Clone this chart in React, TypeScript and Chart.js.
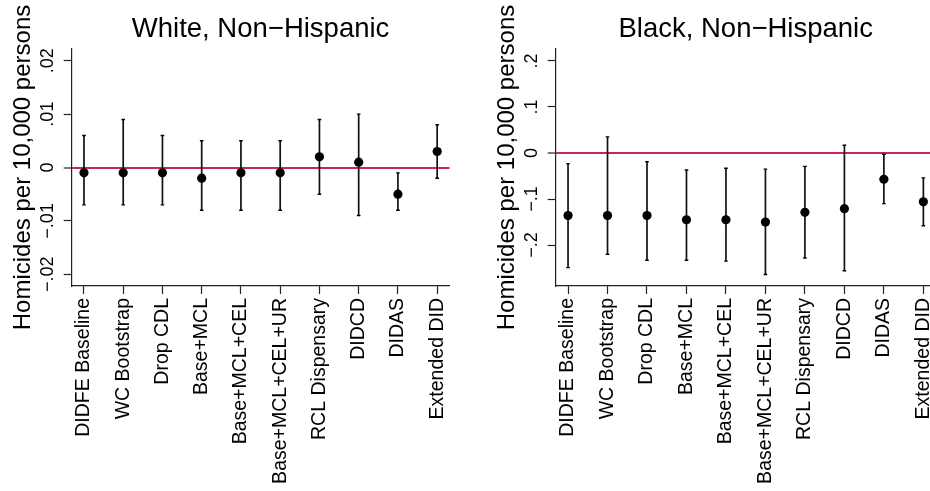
import { useEffect, useRef } from "react";
import { Chart, registerables } from "chart.js";

Chart.register(...registerables);

const FONT = "'Liberation Sans', Arial, Helvetica, sans-serif";

const categories = [
  "DIDFE Baseline",
  "WC Bootstrap",
  "Drop CDL",
  "Base+MCL",
  "Base+MCL+CEL",
  "Base+MCL+CEL+UR",
  "RCL Dispensary",
  "DIDCD",
  "DIDAS",
  "Extended DID",
];

const yAxisTitle = "Homicides per 10,000 persons";

const whiteTitle = "White, Non\u2212Hispanic";
const whiteEstimates = [-0.001, -0.001, -0.001, -0.002, -0.001, -0.001, 0.002, 0.001, -0.005, 0.003];
const whiteLower = [-0.007, -0.007, -0.007, -0.008, -0.008, -0.008, -0.005, -0.009, -0.008, -0.002];
const whiteUpper = [0.006, 0.009, 0.006, 0.005, 0.005, 0.005, 0.009, 0.01, -0.001, 0.008];
const whiteTickValues = [-0.02, -0.01, 0, 0.01, 0.02];
const whiteTickLabels = ["\u2212.02", "\u2212.01", "0", ".01", ".02"];

const blackTitle = "Black, Non\u2212Hispanic";
const blackEstimates = [-0.136, -0.136, -0.136, -0.145, -0.145, -0.15, -0.129, -0.121, -0.057, -0.106];
const blackLower = [-0.249, -0.22, -0.233, -0.233, -0.235, -0.264, -0.228, -0.256, -0.11, -0.158];
const blackUpper = [-0.023, 0.035, -0.019, -0.037, -0.033, -0.035, -0.029, 0.017, -0.003, -0.054];
const blackTickValues = [-0.2, -0.1, 0, 0.1, 0.2];
const blackTickLabels = ["\u2212.2", "\u2212.1", "0", ".1", ".2"];

const RED = "#C8284F";
const CANVAS_H = 491;
const PLOT_TOP = 49;
const PLOT_BOTTOM = 286;

type Panel = {
  title: string;
  estimates: number[];
  lower: number[];
  upper: number[];
  tickValues: number[];
  tickLabels: string[];
  yMin: number;
  yMax: number;
  axisWidth: number;
  padRight: number;
};

function buildConfig(p: Panel): any {
  const points = categories.map((_, i) => ({ x: i + 1, y: p.estimates[i] }));
  const caps: { x: number; y: number }[] = [];
  const bars: { x: number; y: number | null }[] = [];
  categories.forEach((_, i) => {
    caps.push({ x: i + 1, y: p.lower[i] }, { x: i + 1, y: p.upper[i] });
    bars.push({ x: i + 1, y: p.lower[i] }, { x: i + 1, y: p.upper[i] }, { x: i + 1, y: null });
  });

  const textPlugin = {
    id: "panelText",
    afterDraw(chart: any) {
      const ctx = chart.ctx as CanvasRenderingContext2D;
      const { left, right, top, bottom } = chart.chartArea;
      const ys = chart.scales.y;
      ctx.save();
      ctx.fillStyle = "#000";
      ctx.font = `27.5px ${FONT}`;
      ctx.textAlign = "center";
      ctx.textBaseline = "alphabetic";
      ctx.fillText(p.title, (left + right) / 2, 37);

      ctx.font = `18px ${FONT}`;
      p.tickValues.forEach((v, i) => {
        const y = ys.getPixelForValue(v);
        ctx.save();
        ctx.translate(left - 24, y);
        ctx.rotate(-Math.PI / 2);
        ctx.textAlign = "center";
        ctx.textBaseline = "middle";
        ctx.fillText(p.tickLabels[i], 0, 0);
        ctx.restore();
      });

      ctx.font = `24px ${FONT}`;
      ctx.save();
      ctx.translate(left - 48, (top + bottom) / 2);
      ctx.rotate(-Math.PI / 2);
      ctx.textAlign = "center";
      ctx.textBaseline = "middle";
      ctx.fillText(yAxisTitle, 0, 0);
      ctx.restore();
      ctx.restore();
    },
  };

  return {
    type: "scatter",
    data: {
      datasets: [
        {
          label: "Estimate",
          data: points,
          pointRadius: 4.6,
          pointHoverRadius: 4.6,
          backgroundColor: "#000",
          borderWidth: 0,
        },
        {
          label: "CI caps",
          data: caps,
          pointStyle: "line",
          pointRadius: 1.8,
          pointHoverRadius: 1.8,
          borderColor: "#000",
          borderWidth: 1.4,
        },
        {
          label: "CI",
          data: bars,
          showLine: true,
          spanGaps: false,
          pointRadius: 0,
          pointHoverRadius: 0,
          borderColor: "#111",
          borderWidth: 1.7,
        },
      ],
    },
    options: {
      animation: false,
      responsive: false,
      devicePixelRatio: 1,
      events: [],
      layout: { padding: { top: PLOT_TOP, right: p.padRight, bottom: 0, left: 0 } },
      plugins: { legend: { display: false }, tooltip: { enabled: false }, title: { display: false } },
      scales: {
        x: {
          type: "linear",
          min: 0.6875,
          max: 10.3125,
          afterBuildTicks: (s: any) => {
            s.ticks = categories.map((_, i) => ({ value: i + 1 }));
          },
          afterFit: (s: any) => {
            s.height = CANVAS_H - PLOT_BOTTOM;
          },
          ticks: {
            autoSkip: false,
            minRotation: 90,
            maxRotation: 90,
            padding: 4,
            color: "#000",
            font: { family: FONT, size: 19.5 },
            callback: (v: number) => categories[Math.round(v) - 1] ?? "",
          },
          grid: {
            display: true,
            drawOnChartArea: false,
            drawTicks: true,
            tickLength: 8,
            tickColor: "#222",
            tickWidth: 1.2,
          },
          border: { display: true, color: "#222", width: 1.2 },
        },
        y: {
          type: "linear",
          min: p.yMin,
          max: p.yMax,
          afterBuildTicks: (s: any) => {
            s.ticks = p.tickValues.map((v) => ({ value: v }));
          },
          afterFit: (s: any) => {
            s.width = p.axisWidth;
          },
          ticks: { display: false },
          grid: {
            display: true,
            drawOnChartArea: true,
            drawTicks: true,
            tickLength: 8,
            color: (c: any) => (c.tick && Math.abs(c.tick.value) < 1e-12 ? RED : "rgba(0,0,0,0)"),
            lineWidth: (c: any) => (c.tick && Math.abs(c.tick.value) < 1e-12 ? 2 : 1),
            tickColor: "#222",
            tickWidth: 1.2,
          },
          border: { display: true, color: "#222", width: 1.2 },
        },
      },
    },
    plugins: [textPlugin],
  };
}

const whitePanel: Panel = {
  title: whiteTitle,
  estimates: whiteEstimates,
  lower: whiteLower,
  upper: whiteUpper,
  tickValues: whiteTickValues,
  tickLabels: whiteTickLabels,
  yMin: -0.0222,
  yMax: 0.0222,
  axisWidth: 71.7,
  padRight: 13.3,
};

const blackPanel: Panel = {
  title: blackTitle,
  estimates: blackEstimates,
  lower: blackLower,
  upper: blackUpper,
  tickValues: blackTickValues,
  tickLabels: blackTickLabels,
  yMin: -0.289,
  yMax: 0.226,
  axisWidth: 90.7,
  padRight: 19.3,
};

export default function App() {
  const leftRef = useRef<HTMLCanvasElement | null>(null);
  const rightRef = useRef<HTMLCanvasElement | null>(null);

  useEffect(() => {
    const charts: Chart[] = [];
    if (leftRef.current) charts.push(new Chart(leftRef.current, buildConfig(whitePanel)));
    if (rightRef.current) charts.push(new Chart(rightRef.current, buildConfig(blackPanel)));
    return () => charts.forEach((c) => c.destroy());
  }, []);

  return (
    <div
      style={{
        position: "fixed",
        left: 0,
        top: 0,
        width: 930,
        height: 491,
        overflow: "hidden",
        background: "#fff",
      }}
    >
      <canvas
        ref={leftRef}
        width={465}
        height={491}
        style={{ position: "absolute", left: 0, top: 0, width: 465, height: 491 }}
      />
      <canvas
        ref={rightRef}
        width={490}
        height={491}
        style={{ position: "absolute", left: 465, top: 0, width: 490, height: 491 }}
      />
    </div>
  );
}
